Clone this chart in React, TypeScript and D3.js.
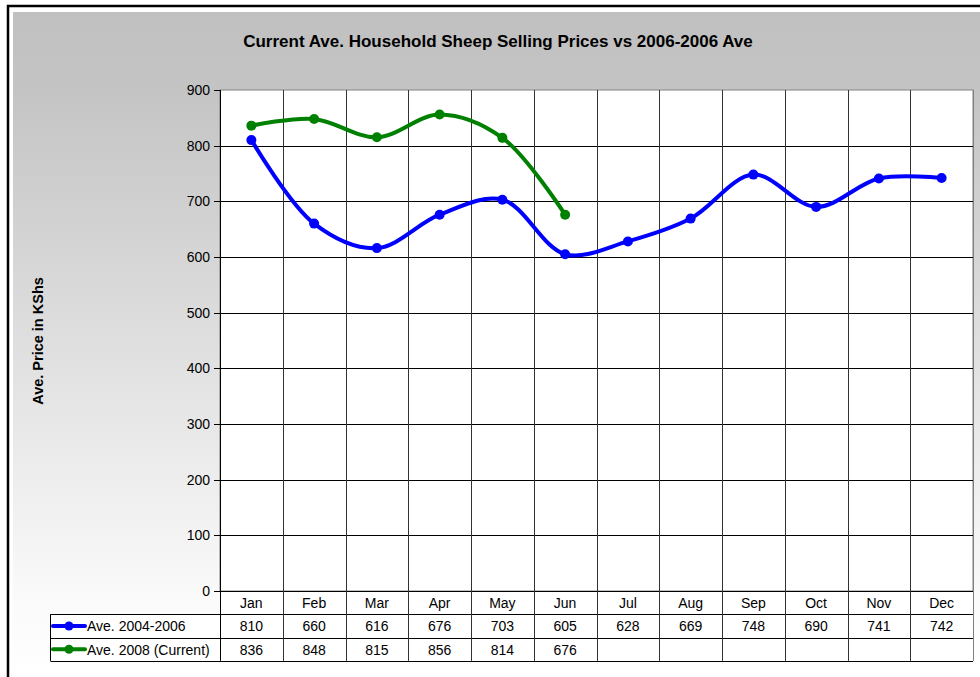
import React, { useEffect, useRef } from 'react';
import * as d3 from 'd3';

const months = ['Jan', 'Feb', 'Mar', 'Apr', 'May', 'Jun', 'Jul', 'Aug', 'Sep', 'Oct', 'Nov', 'Dec'];
const avg0406 = [810, 660, 616, 676, 703, 605, 628, 669, 748, 690, 741, 742];
const avg2008 = [836, 848, 815, 856, 814, 676];
const yTicks = [0, 100, 200, 300, 400, 500, 600, 700, 800, 900];
const seriesNames = ['Ave. 2004-2006', 'Ave. 2008 (Current)'];
const seriesColors = ['#0000ff', '#008000'];

export default function App() {
  const ref = useRef<SVGSVGElement>(null);

  useEffect(() => {
    const svg = d3.select(ref.current);
    svg.selectAll('*').remove();
    const font = "'Liberation Sans', Arial, sans-serif";

    const plot = { left: 220, top: 90, right: 973, bottom: 591 };
    const rowH = 23.3;

    // background gradient
    const defs = svg.append('defs');
    const grad = defs.append('linearGradient').attr('id', 'bg').attr('x1', 0).attr('y1', 0).attr('x2', 0).attr('y2', 1);
    grad.append('stop').attr('offset', '0%').attr('stop-color', '#c0c0c0');
    grad.append('stop').attr('offset', '12%').attr('stop-color', '#c4c4c4');
    grad.append('stop').attr('offset', '88%').attr('stop-color', '#fafafa');
    grad.append('stop').attr('offset', '100%').attr('stop-color', '#ffffff');

    svg.append('rect').attr('x', 0).attr('y', 0).attr('width', 980).attr('height', 677).attr('fill', '#fff');
    svg.append('rect').attr('x', 13).attr('y', 12).attr('width', 967).attr('height', 665).attr('fill', 'url(#bg)');
    // outer frame
    svg.append('path').attr('d', 'M8,677 V6 H980').attr('fill', 'none').attr('stroke', '#000').attr('stroke-width', 2.5);

    svg.append('text').attr('x', 498).attr('y', 47).attr('text-anchor', 'middle')
      .attr('font-family', font).attr('font-weight', 'bold').attr('font-size', 17).attr('fill', '#000')
      .text('Current Ave. Household Sheep Selling Prices vs 2006-2006 Ave');

    const x = d3.scaleBand<string>().domain(months).range([plot.left, plot.right]);
    const y = d3.scaleLinear().domain([0, 900]).range([plot.bottom, plot.top]);

    svg.append('rect').attr('x', plot.left).attr('y', plot.top)
      .attr('width', plot.right - plot.left).attr('height', plot.bottom - plot.top)
      .attr('fill', '#fff').attr('stroke', '#808080').attr('stroke-width', 1);

    // horizontal gridlines
    svg.append('g').selectAll('line').data(yTicks.filter(t => t > 0 && t < 900)).join('line')
      .attr('x1', plot.left).attr('x2', plot.right)
      .attr('y1', d => Math.round(y(d)) + 0.5).attr('y2', d => Math.round(y(d)) + 0.5)
      .attr('stroke', '#000').attr('stroke-width', 1);

    // vertical gridlines extend through the table
    const tableBottom = plot.bottom + rowH * 3;
    svg.append('g').selectAll('line').data(months.slice(1)).join('line')
      .attr('x1', d => Math.round(x(d)!) + 0.5).attr('x2', d => Math.round(x(d)!) + 0.5)
      .attr('y1', plot.top).attr('y2', tableBottom)
      .attr('stroke', '#333').attr('stroke-width', 1);

    // y axis
    const yAxis = svg.append('g');
    yAxis.append('line').attr('x1', plot.left + 0.5).attr('x2', plot.left + 0.5)
      .attr('y1', plot.top).attr('y2', plot.bottom).attr('stroke', '#000');
    yAxis.selectAll('line.tick').data(yTicks).join('line').attr('class', 'tick')
      .attr('x1', plot.left - 6).attr('x2', plot.left)
      .attr('y1', d => Math.round(y(d)) + 0.5).attr('y2', d => Math.round(y(d)) + 0.5)
      .attr('stroke', '#000');
    yAxis.selectAll('text').data(yTicks).join('text')
      .attr('x', plot.left - 10).attr('y', d => y(d) + 5).attr('text-anchor', 'end')
      .attr('font-family', font).attr('font-size', 14).attr('fill', '#000').text(d => d);

    svg.append('text').attr('transform', 'translate(43,341) rotate(-90)').attr('text-anchor', 'middle')
      .attr('font-family', font).attr('font-weight', 'bold').attr('font-size', 14.5).attr('fill', '#000')
      .text('Ave. Price in KShs');

    // data table
    const table = svg.append('g');
    const rows = [plot.bottom, plot.bottom + rowH, plot.bottom + rowH * 2, tableBottom];
    table.append('rect').attr('x', 50.5).attr('y', rows[1]).attr('width', plot.right - 50.5)
      .attr('height', rowH * 2).attr('fill', '#fff');
    table.append('rect').attr('x', plot.left).attr('y', rows[0]).attr('width', plot.right - plot.left)
      .attr('height', rowH).attr('fill', '#fff');
    table.selectAll('line.h').data(rows).join('line').attr('class', 'h')
      .attr('x1', (d, i) => (i === 0 ? plot.left : 50.5)).attr('x2', plot.right)
      .attr('y1', d => Math.round(d) + 0.5).attr('y2', d => Math.round(d) + 0.5)
      .attr('stroke', '#000');
    table.append('line').attr('x1', 50.5).attr('x2', 50.5).attr('y1', rows[1]).attr('y2', tableBottom).attr('stroke', '#000');
    table.append('line').attr('x1', plot.left + 0.5).attr('x2', plot.left + 0.5).attr('y1', rows[0]).attr('y2', tableBottom).attr('stroke', '#000');
    table.append('line').attr('x1', plot.right + 0.5).attr('x2', plot.right + 0.5).attr('y1', plot.top).attr('y2', tableBottom).attr('stroke', '#808080');
    // redraw vertical gridlines over white table bg
    table.selectAll('line.v').data(months.slice(1)).join('line').attr('class', 'v')
      .attr('x1', d => Math.round(x(d)!) + 0.5).attr('x2', d => Math.round(x(d)!) + 0.5)
      .attr('y1', rows[0]).attr('y2', tableBottom).attr('stroke', '#333');

    const cx = (m: string) => x(m)! + x.bandwidth() / 2;
    table.selectAll('text.m').data(months).join('text').attr('class', 'm')
      .attr('x', cx).attr('y', rows[0] + 17).attr('text-anchor', 'middle')
      .attr('font-family', font).attr('font-size', 14).attr('fill', '#000').text(d => d);
    [avg0406, avg2008].forEach((vals, r) => {
      table.selectAll(`text.v${r}`).data(vals).join('text').attr('class', `v${r}`)
        .attr('x', (d, i) => cx(months[i])).attr('y', rows[r + 1] + 17).attr('text-anchor', 'middle')
        .attr('font-family', font).attr('font-size', 14).attr('fill', '#000').text(d => d);
      const ly = rows[r + 1] + rowH / 2;
      table.append('line').attr('x1', 53).attr('x2', 85).attr('y1', ly).attr('y2', ly)
        .attr('stroke', seriesColors[r]).attr('stroke-width', 4).attr('stroke-linecap', 'round');
      table.append('circle').attr('cx', 69).attr('cy', ly).attr('r', 4.5).attr('fill', seriesColors[r]);
      table.append('text').attr('x', 87).attr('y', rows[r + 1] + 17)
        .attr('font-family', font).attr('font-size', 14).attr('fill', '#000').text(seriesNames[r]);
    });

    // series
    const line = d3.line<number>()
      .x((d, i) => cx(months[i]))
      .y(d => y(d))
      .curve(d3.curveCatmullRom.alpha(0.5));
    [avg0406, avg2008].forEach((vals, r) => {
      svg.append('path').datum(vals).attr('d', line).attr('fill', 'none')
        .attr('stroke', seriesColors[r]).attr('stroke-width', 4).attr('stroke-linejoin', 'round');
      svg.append('g').selectAll('circle').data(vals).join('circle')
        .attr('cx', (d, i) => cx(months[i])).attr('cy', d => y(d)).attr('r', 5)
        .attr('fill', seriesColors[r]);
    });
  }, []);

  return (
    <svg ref={ref} width={980} height={677}
      style={{ position: 'absolute', left: 0, top: 0, display: 'block' }} />
  );
}
